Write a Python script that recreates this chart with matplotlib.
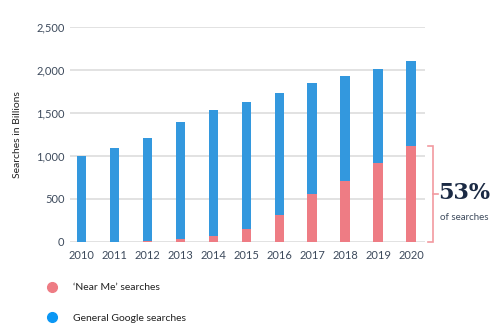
import matplotlib.pyplot as plt
from matplotlib.lines import Line2D

years = ['2010', '2011', '2012', '2013', '2014', '2015', '2016', '2017', '2018', '2019', '2020']
total_searches = [1000, 1095, 1215, 1390, 1530, 1625, 1735, 1845, 1925, 2015, 2100]
near_me = [2, 4, 12, 35, 70, 150, 317, 558, 709, 919, 1115]
general = [t - n for t, n in zip(total_searches, near_me)]
y_ticks = [0, 500, 1000, 1500, 2000, 2500]

BLUE = '#3398de'
RED = '#ee7c84'
TEXT = '#3d4a5c'

plt.rcParams['font.family'] = ['Lato', 'DejaVu Sans']

fig = plt.figure(figsize=(5, 3.33), dpi=100)
ax = fig.add_axes([0.14, 0.2733, 0.71, 0.6456])

x = list(range(len(years)))
ax.bar(x, near_me, width=0.29, color=RED, zorder=3)
ax.bar(x, general, bottom=near_me, width=0.29, color=BLUE, zorder=3)

ax.set_xlim(-0.35, 10.42)
ax.set_ylim(0, 2500)
ax.set_yticks(y_ticks)
ax.set_yticklabels([f'{v:,}' for v in y_ticks])
ax.set_xticks(x)
ax.set_xticklabels(years)
ax.tick_params(length=0, labelsize=8, labelcolor=TEXT)
ax.tick_params(axis='y', pad=4)
ax.tick_params(axis='x', pad=6)
ax.grid(axis='y', color='#dddddd', linewidth=1.2, zorder=0)
for s in ax.spines.values():
    s.set_visible(False)
ax.set_ylabel('Searches in Billions', fontsize=7.5, color='#222222', labelpad=10)

# bracket marking the 2020 share
share = near_me[-1] / total_searches[-1]
bx = 10.66
ax.plot([bx - 0.15, bx, bx, bx - 0.15], [near_me[-1], near_me[-1], 0, 0],
        color='#f29aa0', linewidth=1.2, clip_on=False, solid_joinstyle='miter')
ax.plot([bx, bx + 0.15], [near_me[-1] / 2, near_me[-1] / 2],
        color='#f29aa0', linewidth=1.2, clip_on=False)
ax.text(11.6, near_me[-1] / 2 + 10, f'{share:.0%}', ha='center', va='center',
        fontsize=16, fontweight='bold', family='DejaVu Serif', color='#1b2a44',
        clip_on=False)
ax.text(11.6, near_me[-1] / 2 - 270, 'of searches', ha='center', va='center',
        fontsize=7, color=TEXT, clip_on=False)

handles = [
    Line2D([], [], marker='o', linestyle='none', markersize=7, color=RED, label='\u2018Near Me\u2019 searches'),
    Line2D([], [], marker='o', linestyle='none', markersize=7, color='#0b97f4', label='General Google searches'),
]
fig.legend(handles=handles, loc='upper left', bbox_to_anchor=(0.065, 0.178),
           frameon=False, fontsize=7.5, labelspacing=2.0, handletextpad=1.0,
           labelcolor='#222222')

fig.savefig('out.png', dpi=100)
